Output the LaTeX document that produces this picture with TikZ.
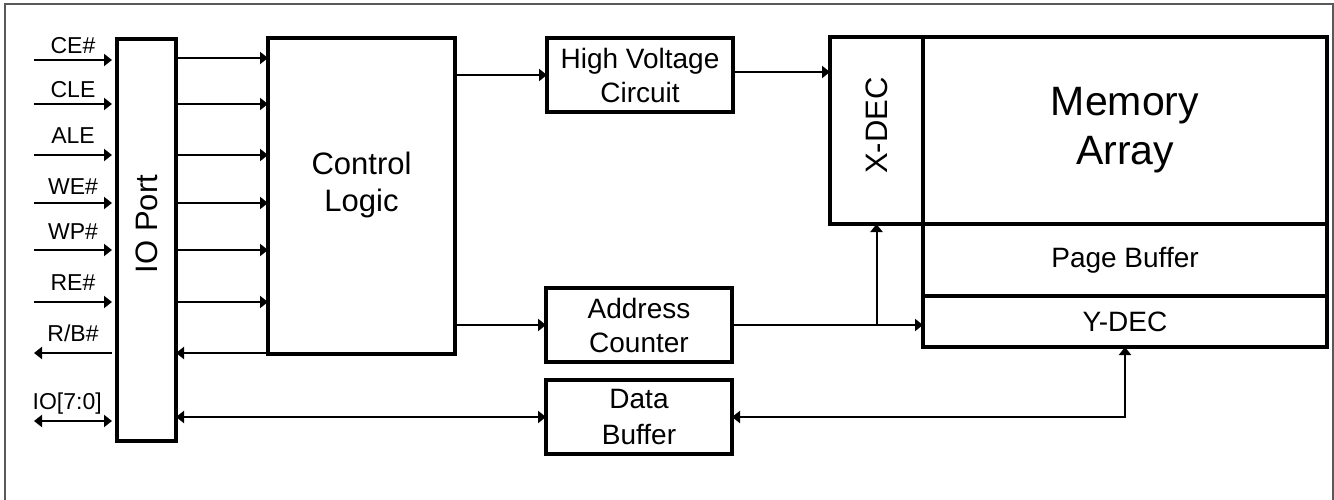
\documentclass[tikz,border=0pt]{standalone}
\usepackage{fontspec}
\setmainfont{Liberation Sans}
\usetikzlibrary{arrows.meta,positioning}

\begin{document}
\begin{tikzpicture}[x=1pt,y=-1pt,>={Triangle[length=8pt,width=12pt]},
 box/.style={draw,line width=3.2pt,outer sep=0pt,inner sep=0pt,align=center},
 sig/.style={line width=2pt},
 lab/.style={font=\fontsize{23}{26}\selectfont},
 txt/.style={font=\fontsize{28}{34}\selectfont},
 big/.style={font=\fontsize{31}{37}\selectfont}]
\useasboundingbox (0,0) rectangle (1334,500);
\draw[gray!70!black,line width=1.2pt] (5,500) |- (1333,4) -- (1333,500);

% blocks
\node[box,anchor=north west,minimum width=59pt,minimum height=402pt,
  label={[big,yshift=16pt,rotate=90]center:IO Port}] (io) at (117,39) {};
\node[box,anchor=north west,minimum width=187pt,minimum height=316pt,
  label={[big,align=center,yshift=11pt]center:Control\\Logic}] (ctl) at (268,38) {};
\node[box,txt,anchor=north west,minimum width=186pt,minimum height=74pt] (hv) at (547,38) {High Voltage\\Circuit};
\node[box,txt,anchor=north west,minimum width=186pt,minimum height=74pt] (ac) at (546,288) {Address\\Counter};
\node[box,txt,below=18pt of ac,minimum width=186pt,minimum height=74pt,
  font=\fontsize{28}{36}\selectfont] (db) {Data\\Buffer};

% memory side
\node[box,anchor=north west,minimum width=404pt,minimum height=187pt,font=\fontsize{41}{49}\selectfont] (mem) at (923,37) {Memory\\Array};
\node[box,txt,below=0pt of mem,minimum width=404pt,minimum height=72pt] (pbuf) {Page Buffer};
\node[box,txt,below=0pt of pbuf,minimum width=404pt,minimum height=51pt] (ydec) {Y-DEC};
\node[box,left=0pt of mem,minimum width=93pt,minimum height=187pt,
  label={[big,yshift=5pt,rotate=90]center:X-DEC}] (xdec) {};

% pins
\foreach \lbl/\y/\dy [count=\i] in {CE\#/60/6,CLE/104/6,ALE/155/11,WE\#/203/8,WP\#/250/11,RE\#/302/12}{
  \coordinate (pin\i) at (34,\y);
  \draw[sig,->,shorten >=5pt] (pin\i) -- (io.west |- pin\i)
    node[lab,pos=0.47,anchor=base,yshift=\dy pt] {\lbl};
}
\coordinate (pin7) at (34,353);
\coordinate (pin8) at (34,421);
\draw[sig,<-,shorten >=5pt] (pin7) -- (io.west |- pin7)
  node[lab,pos=0.47,anchor=base,yshift=12pt] {R/B\#};
\draw[sig,<->,shorten >=5pt] (pin8) -- (io.west |- pin8)
  node[lab,pos=0.4,anchor=base,yshift=12pt] {IO[7:0]};

% io port to control logic
\foreach \y in {58,104,155,203,250,302}
  \draw[sig,->] (io.east |- 0,\y) -- (ctl.west |- 0,\y);
\draw[sig,<-] (io.east |- 0,353) -- (ctl.west |- 0,353);

\draw[sig,->] (ctl.east |- hv.west) -- (hv.west);
\draw[sig,->] (hv.east |- 0,72) -- (xdec.west |- 0,72);
\draw[sig,->] (ctl.east |- ac.west) -- (ac.west);
\draw[sig,->] (ac.east) -- (ac.east -| ydec.west);
\draw[sig,->] (xdec.south |- ac.east) -- (xdec.south);
\draw[sig,<->] (io.east |- db.west) -- (db.west);
\draw[sig,<->] (db.east) -| (ydec.south);
\end{tikzpicture}
\end{document}
